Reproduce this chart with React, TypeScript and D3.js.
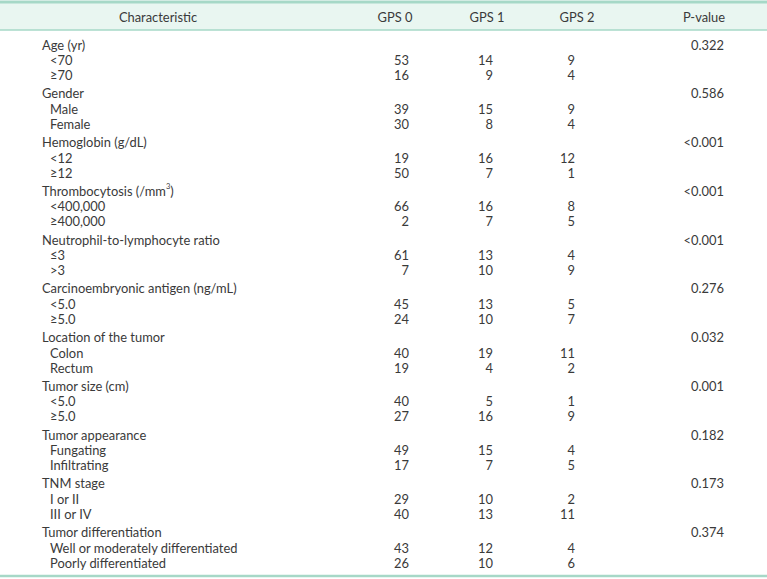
import React from "react";
import * as d3 from "d3";

const headers = ["Characteristic", "GPS 0", "GPS 1", "GPS 2", "P-value"];
const groups = [
  "Age (yr)",
  "Gender",
  "Hemoglobin (g/dL)",
  "Thrombocytosis (/mm3)",
  "Neutrophil-to-lymphocyte ratio",
  "Carcinoembryonic antigen (ng/mL)",
  "Location of the tumor",
  "Tumor size (cm)",
  "Tumor appearance",
  "TNM stage",
  "Tumor differentiation",
];
const pValues = ["0.322", "0.586", "<0.001", "<0.001", "<0.001", "0.276", "0.032", "0.001", "0.182", "0.173", "0.374"];
const subLabels = [
  ["<70", "≥70"],
  ["Male", "Female"],
  ["<12", "≥12"],
  ["<400,000", "≥400,000"],
  ["≤3", ">3"],
  ["<5.0", "≥5.0"],
  ["Colon", "Rectum"],
  ["<5.0", "≥5.0"],
  ["Fungating", "Infiltrating"],
  ["I or II", "III or IV"],
  ["Well or moderately differentiated", "Poorly differentiated"],
];
const gps0 = [[53, 16], [39, 30], [19, 50], [66, 2], [61, 7], [45, 24], [40, 19], [40, 27], [49, 17], [29, 40], [43, 26]];
const gps1 = [[14, 9], [15, 8], [16, 7], [16, 7], [13, 10], [13, 10], [19, 4], [5, 16], [15, 7], [10, 13], [12, 10]];
const gps2 = [[9, 4], [9, 4], [12, 1], [8, 5], [4, 9], [5, 7], [11, 2], [1, 9], [4, 5], [2, 11], [4, 6]];

const W = 767;
const H = 579;
const FONT = "Lato, 'Open Sans', sans-serif";
const TEXT = "#3a3a3a";
const TEAL = "#a6d8c7";
const HEADER_BG = "#e9f6f1";

export default function App() {
  const groupY = d3.scaleLinear().domain([0, groups.length - 1]).range([44.5, 532]);
  const subOffset = [15.5, 30.5];
  const colRight = [409, 493, 575];
  const headerX = [158, 395, 487, 577, 704];
  const cols = [gps0, gps1, gps2];

  return (
    <svg
      width={W}
      height={H}
      style={{ position: "absolute", left: 0, top: 0, background: "#fff" }}
      fontFamily={FONT}
      fontSize={12.9}
      fill={TEXT}
    >
      <rect x={0} y={2} width={W} height={28} fill={HEADER_BG} />
      <line x1={0} x2={W} y1={2} y2={2} stroke={TEAL} strokeWidth={3} />
      <line x1={0} x2={W} y1={30} y2={30} stroke={TEAL} strokeWidth={1.5} />
      <line x1={0} x2={W} y1={576} y2={576} stroke={TEAL} strokeWidth={2.5} />
      {headers.map((h, i) => (
        <text key={h} x={headerX[i]} y={17} textAnchor="middle" dominantBaseline="central">
          {h}
        </text>
      ))}
      {groups.map((g, gi) => {
        const y = groupY(gi);
        return (
          <g key={g}>
            <text x={42} y={y} dominantBaseline="central">
              {g === "Thrombocytosis (/mm3)" ? (
                <>
                  Thrombocytosis (/mm
                  <tspan fontSize={7.5} dy={-5}>3</tspan>
                  <tspan dy={5}>)</tspan>
                </>
              ) : (
                g
              )}
            </text>
            <text x={724} y={y} textAnchor="end" dominantBaseline="central">
              {pValues[gi]}
            </text>
            {subLabels[gi].map((s, si) => (
              <g key={si}>
                <text x={50} y={y + subOffset[si]} dominantBaseline="central">
                  {s}
                </text>
                {cols.map((c, ci) => (
                  <text
                    key={ci}
                    x={colRight[ci]}
                    y={y + subOffset[si]}
                    textAnchor="end"
                    dominantBaseline="central"
                  >
                    {c[gi][si]}
                  </text>
                ))}
              </g>
            ))}
          </g>
        );
      })}
    </svg>
  );
}
